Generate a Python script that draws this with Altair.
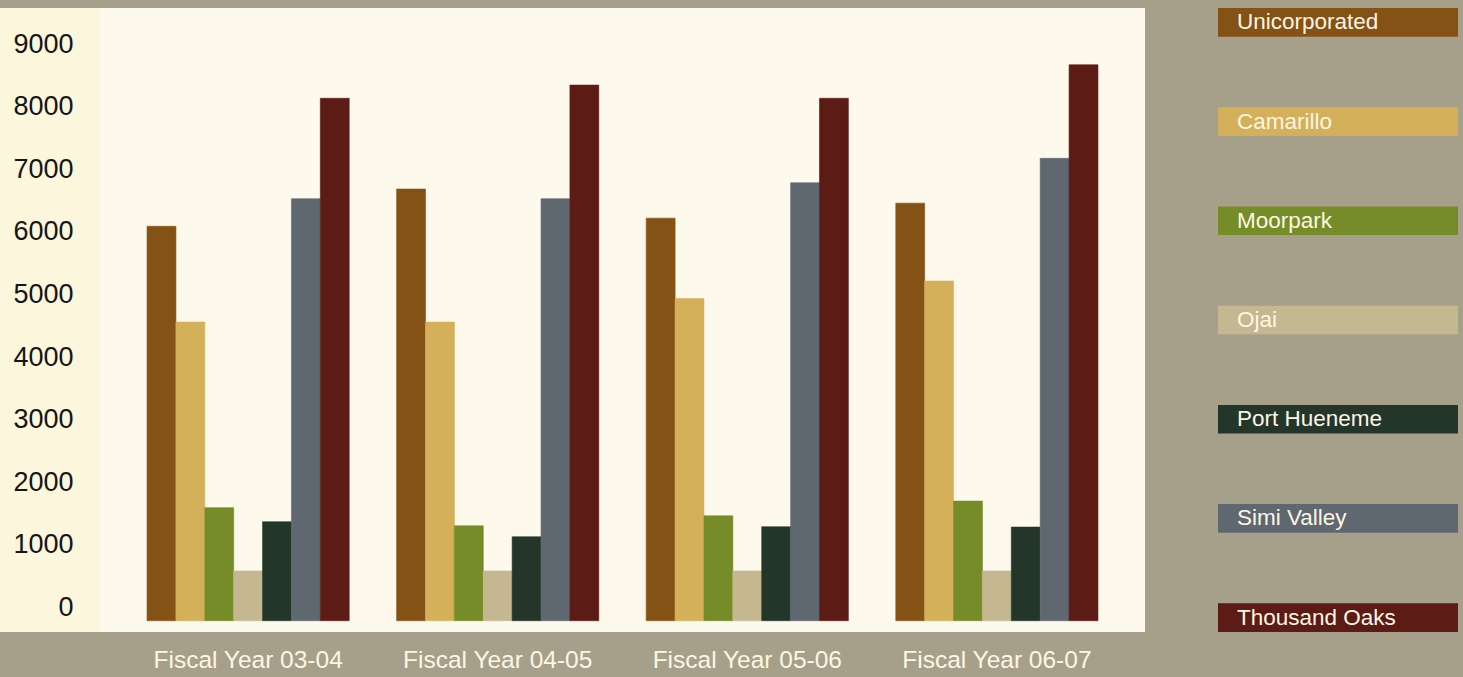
import altair as alt
import pandas as pd

# ---- data ----
years = ["Fiscal Year 03-04", "Fiscal Year 04-05", "Fiscal Year 05-06", "Fiscal Year 06-07"]
cities = ["Unicorporated", "Camarillo", "Moorpark", "Ojai", "Port Hueneme", "Simi Valley", "Thousand Oaks"]
colors = ["#845215", "#d4b05a", "#768c28", "#c5b790", "#24352a", "#5f6870", "#5c1b14"]

unincorporated = [6090, 6685, 6220, 6460]
camarillo = [4560, 4560, 4935, 5215]
moorpark = [1595, 1305, 1465, 1700]
ojai = [585, 585, 585, 585]
port_hueneme = [1370, 1130, 1290, 1285]
simi_valley = [6530, 6530, 6785, 7175]
thousand_oaks = [8135, 8345, 8135, 8670]

y_ticks = [0, 1000, 2000, 3000, 4000, 5000, 6000, 7000, 8000, 9000]

series = [unincorporated, camarillo, moorpark, ojai, port_hueneme, simi_valley, thousand_oaks]
rows = []
for city, vals in zip(cities, series):
    for yr, v in zip(years, vals):
        rows.append({"year": yr, "city": city, "value": v})
df = pd.DataFrame(rows)

# ---- style constants ----
BG = "#a6a08a"
PLOT_BG = "#fef9ed"
AXIS_BG = "#fcf6dc"
LIGHT_TEXT = "#fdf6e4"
FONT = "Liberation Sans"
Y_DOMAIN = [-391, 9577]
BAR_BASE = -211
PLOT_W, PLOT_H = 1045, 624

axis_panel = alt.Chart(pd.DataFrame({"a": [0]})).mark_rect(color=AXIS_BG, clip=False).encode(
    x=alt.value(-100), x2=alt.value(0), y=alt.value(0), y2=alt.value(PLOT_H)
)

bars = alt.Chart(df).mark_bar(strokeWidth=0.6).encode(
    x=alt.X(
        "year:N",
        sort=years,
        scale=alt.Scale(paddingInner=0.19, paddingOuter=0.1885),
        axis=alt.Axis(
            title=None, labelAngle=0, ticks=False, tickSize=0, domain=False,
            labelFont=FONT, labelFontSize=24.5, labelColor=LIGHT_TEXT, labelLimit=0,
            labelPadding=16, labelBaseline="top", minExtent=45, maxExtent=45,
        ),
    ),
    xOffset=alt.XOffset("city:N", sort=cities, scale=alt.Scale(paddingInner=0, paddingOuter=0)),
    y=alt.Y(
        "value:Q",
        scale=alt.Scale(domain=Y_DOMAIN, nice=False, zero=False),
        axis=alt.Axis(
            title=None, values=y_ticks, format="d", grid=False, ticks=False, tickSize=0, domain=False,
            labelFont=FONT, labelFontSize=27, labelColor="#151515", labelPadding=27,
            minExtent=100, maxExtent=100, zindex=1, labelAlign="right", labelBaseline="middle",
        ),
    ),
    y2=alt.Y2(datum=BAR_BASE),
    color=alt.Color("city:N", scale=alt.Scale(domain=cities, range=colors), legend=None),
    stroke=alt.Stroke("city:N", scale=alt.Scale(domain=cities, range=colors), legend=None),
)

main = alt.layer(axis_panel, bars).properties(
    width=PLOT_W, height=PLOT_H,
    view=alt.ViewBackground(fill=PLOT_BG, strokeWidth=0),
)

leg_df = pd.DataFrame({"city": cities})
leg_y = alt.Y("city:N", sort=cities, scale=alt.Scale(paddingInner=0.711, paddingOuter=0), axis=None)
leg_rect = alt.Chart(leg_df).mark_rect().encode(
    y=leg_y,
    x=alt.value(0), x2=alt.value(240),
    color=alt.Color("city:N", scale=alt.Scale(domain=cities, range=colors), legend=None),
)
leg_text = alt.Chart(leg_df).mark_text(
    align="left", baseline="middle", font=FONT, fontSize=22.5, color=LIGHT_TEXT, dy=0
).encode(y=leg_y, x=alt.value(19), text="city:N")

legend = alt.layer(leg_rect, leg_text).properties(
    width=240, height=PLOT_H,
    view=alt.ViewBackground(fill="transparent", strokeWidth=0),
)

chart = alt.hconcat(main, legend, spacing=73).properties(
    padding={"left": 0, "top": 8, "right": 5, "bottom": 0},
    background=BG,
).configure_view(strokeWidth=0)

chart.save("out.html", embed_options={"renderer": "svg", "actions": False})
